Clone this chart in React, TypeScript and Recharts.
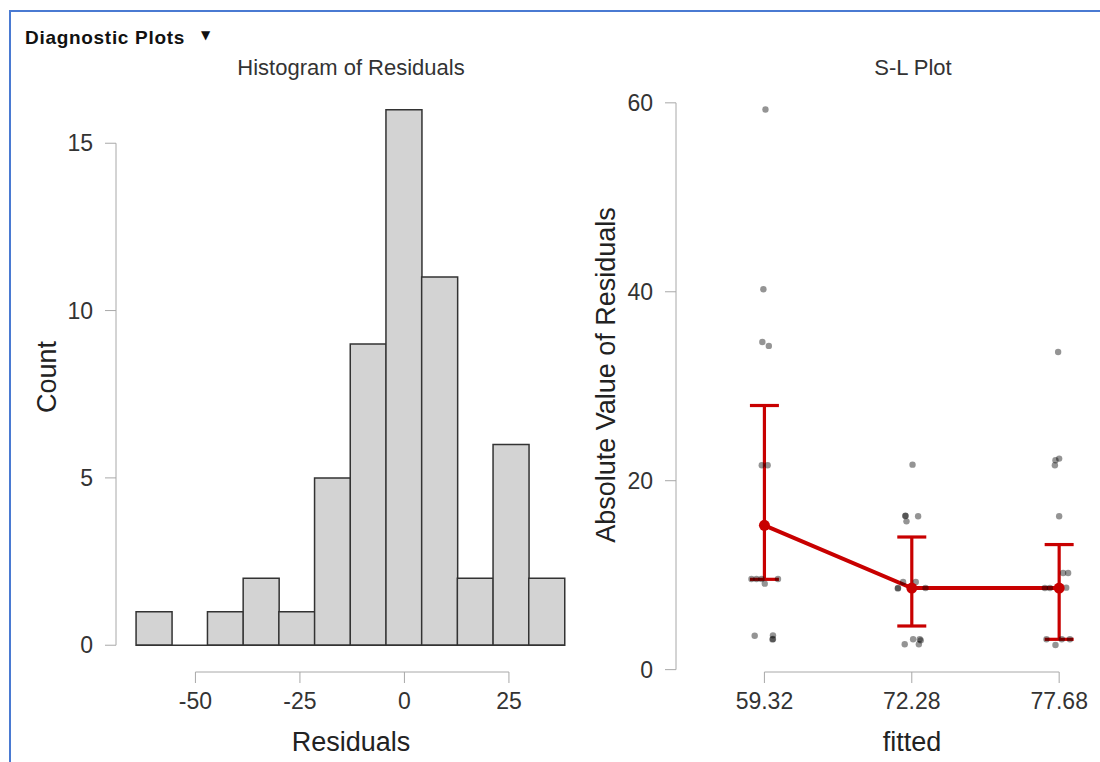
import React from 'react'
import { ComposedChart, Bar, Line, Scatter, XAxis, YAxis, ReferenceLine, ErrorBar } from 'recharts'

// histogram of residuals
const binEdges = [-64.2, -55.66, -47.12, -38.58, -30.04, -21.5, -12.96, -4.42, 4.12, 12.66, 21.2, 29.74, 38.28]
const binCounts = [1, 0, 1, 2, 1, 5, 9, 16, 11, 2, 6, 2]
const residualTicks = [-50, -25, 0, 25]
const countTicks = [0, 5, 10, 15]
const histXDomain = [-69, 42]
const histYDomain = [-0.8, 16.8]

// S-L plot
const fittedLabels = ['59.32', '72.28', '77.68']
const slMeans = [15.28, 8.64, 8.64]
const slLower = [9.56, 4.62, 3.21]
const slUpper = [27.96, 14.04, 13.24]
const slTicks = [0, 20, 40, 60]
const slXDomain = [-0.6, 2.25]
const slYDomain = [-0.25, 62.1]

// |residual| per fitted group as [jitter, value]
const absRes5932 = [
  [0.007, 59.3], [-0.007, 40.27], [-0.014, 34.69], [0.03, 34.27], [-0.018, 21.64], [0.022, 21.64],
  [-0.088, 9.6], [-0.054, 9.6], [-0.02, 9.6], [0.092, 9.6], [0.002, 9.1],
  [-0.066, 3.58], [0.058, 3.63], [0.058, 3.25], [0.055, 3.2],
]
const absRes7228 = [
  [0.005, 21.7], [-0.043, 16.27], [-0.043, 16.3], [-0.036, 15.7], [0.043, 16.23],
  [-0.093, 8.64], [-0.095, 8.6], [-0.059, 9.28], [0.027, 9.28], [0.093, 8.64],
  [-0.048, 2.68], [0.009, 3.21], [0.054, 3.21], [0.048, 2.68], [0.061, 3.1],
]
const absRes7768 = [
  [-0.007, 33.63], [-0.029, 21.64], [-0.025, 22.17], [0.0, 22.34], [0.0, 16.23],
  [0.027, 10.23], [0.061, 10.23], [-0.097, 8.64], [-0.063, 8.64], [0.048, 8.68],
  [-0.086, 3.21], [-0.025, 2.61], [0.073, 3.21], [0.018, 3.21],
]

const FONT = '"Liberation Sans", Arial, sans-serif'
const RED = '#c80000'
const AXIS = '#a8a8a8'

const histData = binCounts.map((c, i) => ({ mid: (binEdges[i] + binEdges[i + 1]) / 2, count: c }))
const pointData = [absRes5932, absRes7228, absRes7768].flatMap((pts, g) =>
  pts.map(([j, v]) => ({ x: g + j, y: v }))
)
const meanData = slMeans.map((m, i) => ({ x: i, y: m, err: [m - slLower[i], slUpper[i] - m] }))

const tickStyle = { fill: '#333', fontSize: 23, fontFamily: FONT }

export default function App() {
  return (
    <div style={{ position: 'absolute', left: 0, top: 0, width: 1100, height: 762, background: '#fff', fontFamily: FONT }}>
      <div style={{ position: 'absolute', left: 0, top: 0 }}>
        <ComposedChart width={600} height={762} data={histData} margin={{ top: 83, right: 20, bottom: 0, left: 0 }}
          barCategoryGap={0} barGap={0}>
          <XAxis dataKey="mid" type="number" domain={histXDomain} ticks={residualTicks} axisLine={false}
            tickLine={{ stroke: AXIS }} tickSize={11} tickMargin={10} tick={tickStyle} height={90} interval={0} />
          <YAxis type="number" domain={histYDomain} ticks={countTicks} axisLine={false}
            tickLine={{ stroke: AXIS }} tickSize={11} tickMargin={12} tick={tickStyle} width={116} interval={0} />
          <Bar dataKey="count" fill="#d3d3d3" stroke="#333" strokeWidth={1.5} isAnimationActive={false} />
          <ReferenceLine ifOverflow="visible" stroke="#333" strokeWidth={1.5}
            segment={[{ x: binEdges[0], y: 0 }, { x: binEdges[binEdges.length - 1], y: 0 }]} />
          <ReferenceLine ifOverflow="visible" stroke={AXIS}
            segment={[{ x: residualTicks[0], y: histYDomain[0] }, { x: residualTicks[residualTicks.length - 1], y: histYDomain[0] }]} />
          <ReferenceLine ifOverflow="visible" stroke={AXIS}
            segment={[{ x: histXDomain[0], y: countTicks[0] }, { x: histXDomain[0], y: countTicks[countTicks.length - 1] }]} />
        </ComposedChart>
      </div>
      <div style={{ position: 'absolute', left: 600, top: 0 }}>
        <ComposedChart width={500} height={762} margin={{ top: 83, right: 4, bottom: 0, left: 0 }}>
          <XAxis dataKey="x" type="number" domain={slXDomain} ticks={[0, 1, 2]} tickFormatter={(v) => fittedLabels[v]}
            axisLine={false} tickLine={{ stroke: AXIS }} tickSize={11} tickMargin={10} tick={tickStyle} height={90} interval={0} />
          <YAxis dataKey="y" type="number" domain={slYDomain} ticks={slTicks} axisLine={false}
            tickLine={{ stroke: AXIS }} tickSize={11} tickMargin={12} tick={tickStyle} width={76} interval={0} />
          <ReferenceLine ifOverflow="visible" stroke={AXIS}
            segment={[{ x: 0, y: slYDomain[0] }, { x: fittedLabels.length - 1, y: slYDomain[0] }]} />
          <ReferenceLine ifOverflow="visible" stroke={AXIS}
            segment={[{ x: slXDomain[0], y: slTicks[0] }, { x: slXDomain[0], y: slTicks[slTicks.length - 1] }]} />
          <Scatter data={pointData} isAnimationActive={false}
            shape={(p: any) => <circle cx={p.cx} cy={p.cy} r={3.2} fill="#000" fillOpacity={0.42} />} />
          <Line data={meanData} dataKey="y" stroke={RED} strokeWidth={4} isAnimationActive={false}
            dot={{ r: 5.5, fill: RED, stroke: 'none' }}>
            <ErrorBar dataKey="err" direction="y" width={14.5} stroke={RED} strokeWidth={3.2} />
          </Line>
        </ComposedChart>
      </div>
      <svg width={1100} height={762} style={{ position: 'absolute', left: 0, top: 0, pointerEvents: 'none' }}>
        <line x1={9} y1={11} x2={1100} y2={11} stroke="#4a7ad2" strokeWidth={2} />
        <line x1={10} y1={10} x2={10} y2={762} stroke="#4a7ad2" strokeWidth={2} />
        <text x={25} y={44} fontSize={19} fontWeight="bold" fill="#111" fontFamily={FONT} letterSpacing={0.7}>Diagnostic Plots</text>
        <text x={201} y={39} fontSize={12} fill="#111" fontFamily='"DejaVu Sans", sans-serif'>▼</text>
        <text x={351} y={75} fontSize={22} fill="#333" textAnchor="middle">Histogram of Residuals</text>
        <text x={913} y={75} fontSize={22} fill="#333" textAnchor="middle">S-L Plot</text>
        <text x={351} y={751} fontSize={27} fill="#222" textAnchor="middle">Residuals</text>
        <text x={912} y={751} fontSize={27} fill="#222" textAnchor="middle">fitted</text>
        <text x={56} y={377} fontSize={27} fill="#222" textAnchor="middle" transform="rotate(-90 56 377)">Count</text>
        <text x={615} y={375} fontSize={27} fill="#222" textAnchor="middle" transform="rotate(-90 615 375)">Absolute Value of Residuals</text>
      </svg>
    </div>
  )
}
